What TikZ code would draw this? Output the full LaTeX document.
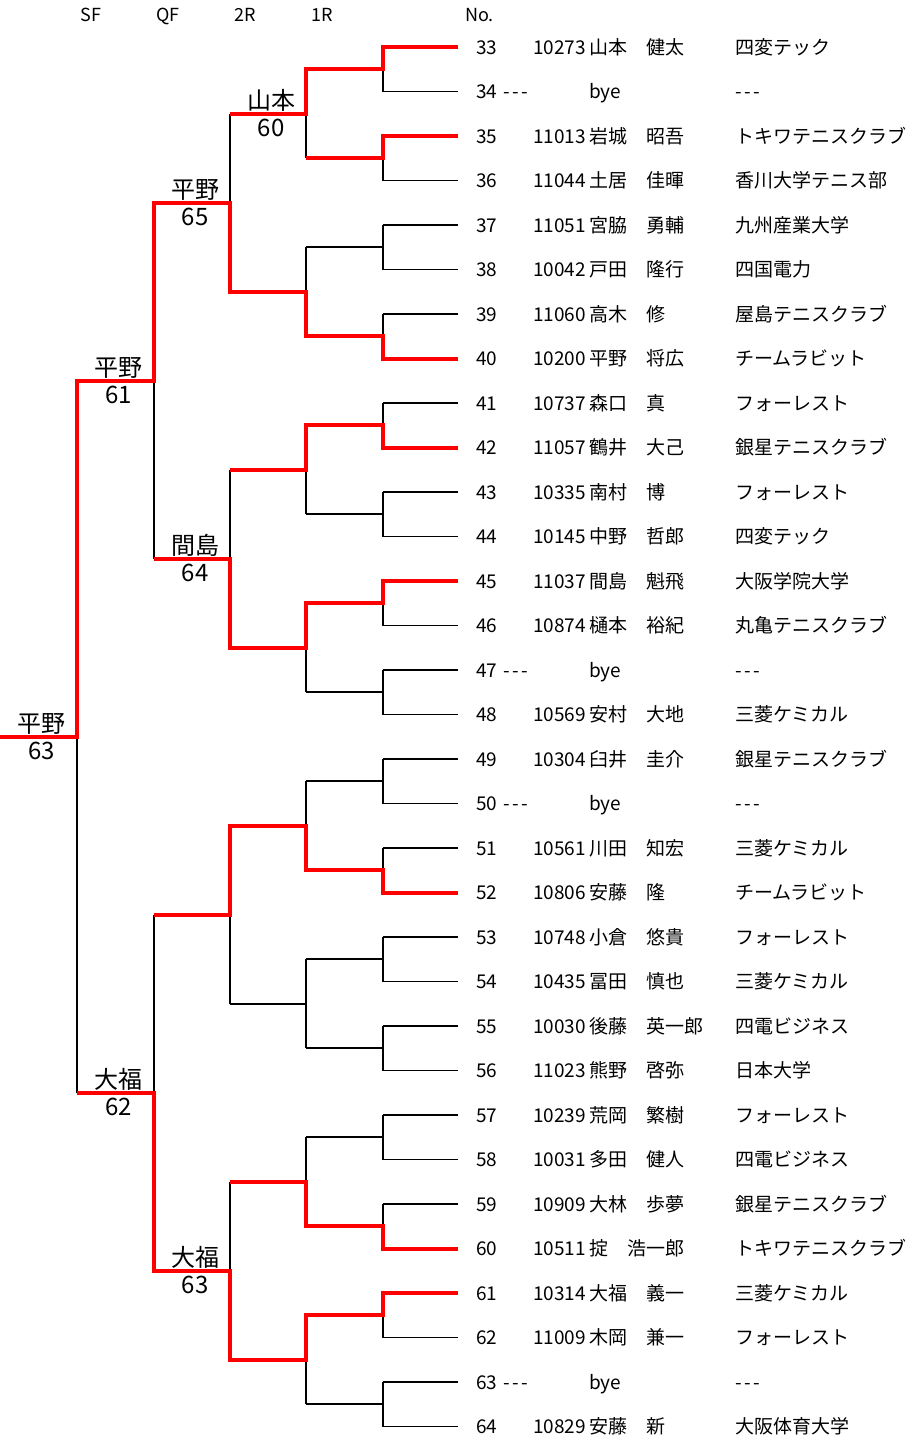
\documentclass[tikz,border=0pt]{standalone}
\usepackage{fontspec}
\setmainfont{Noto Sans CJK JP}
\usetikzlibrary{calc}

\newcommand{\dsh}{-\kern2.5pt-\kern2.5pt-}

\tikzset{
  win/.style={draw=red, line width=4pt},
  wire/.style={draw=black, line width=1.6pt},
  entry/.style={anchor=base west, inner sep=0pt, font=\fontsize{19}{19}\selectfont},
  head/.style={anchor=base, inner sep=0pt, font=\fontsize{18}{18}\selectfont},
  who/.style={anchor=base, inner sep=0pt, font=\fontsize{24}{24}\selectfont},
}

\begin{document}
\begin{tikzpicture}[x=1pt, y=-1pt, line join=miter]
  \useasboundingbox (0,0) rectangle (908,1440);
  % column heads
  \foreach \t/\x in {SF/91,QF/168,2R/245,1R/322}
    \node[head] (h\t) at (\x,21) {\t};
  \node[head, anchor=base west] (hNo) at (465,21) {No.};

  % leaves (o0-k sits at the 1R junction)
  \foreach \i in {33,...,64}{
    \pgfmathsetmacro\y{47+44.5*(\i-33)}
    \pgfmathtruncatemacro\k{\i-33}
    \coordinate (p\i) at (458,\y);
    \coordinate (q\i) at (383,\y);
    \coordinate (o0-\k) at (q\i);
    \draw[wire] (p\i) -- (q\i);}

  % rounds: level / junction x / next x
  \foreach \L/\xa/\xb in {1/383/306, 2/306/230, 3/230/154, 4/154/77, 5/77/0}{
    \pgfmathtruncatemacro\n{2^(5-\L)-1}
    \pgfmathtruncatemacro\w{2^\L}
    \pgfmathtruncatemacro\Lp{\L-1}
    \foreach \k in {0,...,\n}{
      \pgfmathsetmacro\ym{47+44.5*(\w*\k+(\w-1)/2)}
      \pgfmathtruncatemacro\a{2*\k}
      \pgfmathtruncatemacro\b{2*\k+1}
      \coordinate (j\L-\k) at (\xa,\ym);
      \coordinate (o\L-\k) at (\xb,\ym);
      \draw[wire] (o\Lp-\a) -- (o\Lp-\b);
      \draw[wire] (j\L-\k) -- (o\L-\k);}}

  % winners
  \draw[win] (p33) -- (q33) -- (j1-0) -- (o1-0) -- (j2-0) -- (o2-0);
  \draw[win] (p35) -- (q35) -- (j1-1) -- (o1-1);
  \draw[win] (p40) -- (q40) -- (j1-3) -- (o1-3) -- (j2-1) -- (o2-1) -- (j3-0) -- (o3-0)
    -- (j4-0) -- (o4-0) -- (j5-0) -- (o5-0);
  \draw[win] (p42) -- (q42) -- (j1-4) -- (o1-4) -- (j2-2) -- (o2-2);
  \draw[win] (p45) -- (q45) -- (j1-6) -- (o1-6) -- (j2-3) -- (o2-3) -- (j3-1) -- (o3-1);
  \draw[win] (p52) -- (q52) -- (j1-9) -- (o1-9) -- (j2-4) -- (o2-4) -- (j3-2) -- (o3-2);
  \draw[win] (p60) -- (q60) -- (j1-13) -- (o1-13) -- (j2-6) -- (o2-6);
  \draw[win] (p61) -- (q61) -- (j1-14) -- (o1-14) -- (j2-7) -- (o2-7) -- (j3-3) -- (o3-3)
    -- (j4-1) -- (o4-1);

  % results on the lines
  \foreach \m/\nm/\no in {2-0/山本/60, 3-0/平野/65, 4-0/平野/61, 3-1/間島/64,
                          5-0/平野/63, 4-1/大福/62, 3-3/大福/63}{
    \node[who] (w\m) at ($(j\m)!.5!(o\m)+(3,-4)$) {\nm};
    \node[who] (s\m) at ($(j\m)!.5!(o\m)+(3,23)$) {\no};}

  % draw list
  \foreach \i/\x/\id/\nm/\cl in {
      33/533/10273/山本　健太/四変テック,
      34/503/\dsh/bye/\dsh,
      35/533/11013/岩城　昭吾/トキワテニスクラブ,
      36/533/11044/土居　佳暉/香川大学テニス部,
      37/533/11051/宮脇　勇輔/九州産業大学,
      38/533/10042/戸田　隆行/四国電力,
      39/533/11060/高木　修/屋島テニスクラブ,
      40/533/10200/平野　将広/チームラビット,
      41/533/10737/森口　真/フォーレスト,
      42/533/11057/鶴井　大己/銀星テニスクラブ,
      43/533/10335/南村　博/フォーレスト,
      44/533/10145/中野　哲郎/四変テック,
      45/533/11037/間島　魁飛/大阪学院大学,
      46/533/10874/樋本　裕紀/丸亀テニスクラブ,
      47/503/\dsh/bye/\dsh,
      48/533/10569/安村　大地/三菱ケミカル,
      49/533/10304/臼井　圭介/銀星テニスクラブ,
      50/503/\dsh/bye/\dsh,
      51/533/10561/川田　知宏/三菱ケミカル,
      52/533/10806/安藤　隆/チームラビット,
      53/533/10748/小倉　悠貴/フォーレスト,
      54/533/10435/冨田　慎也/三菱ケミカル,
      55/533/10030/後藤　英一郎/四電ビジネス,
      56/533/11023/熊野　啓弥/日本大学,
      57/533/10239/荒岡　繁樹/フォーレスト,
      58/533/10031/多田　健人/四電ビジネス,
      59/533/10909/大林　歩夢/銀星テニスクラブ,
      60/533/10511/掟　浩一郎/トキワテニスクラブ,
      61/533/10314/大福　義一/三菱ケミカル,
      62/533/11009/木岡　兼一/フォーレスト,
      63/503/\dsh/bye/\dsh,
      64/533/10829/安藤　新/大阪体育大学}{
    \pgfmathsetmacro\y{47+44.5*(\i-33)+7}
    \node[entry] (n\i) at (476,\y) {\i};
    \node[entry] (id\i) at (\x,\y) {\id};
    \node[entry] (nm\i) at (589,\y) {\nm};
    \node[entry] (cl\i) at (735,\y) {\cl};}
\end{tikzpicture}
\end{document}
